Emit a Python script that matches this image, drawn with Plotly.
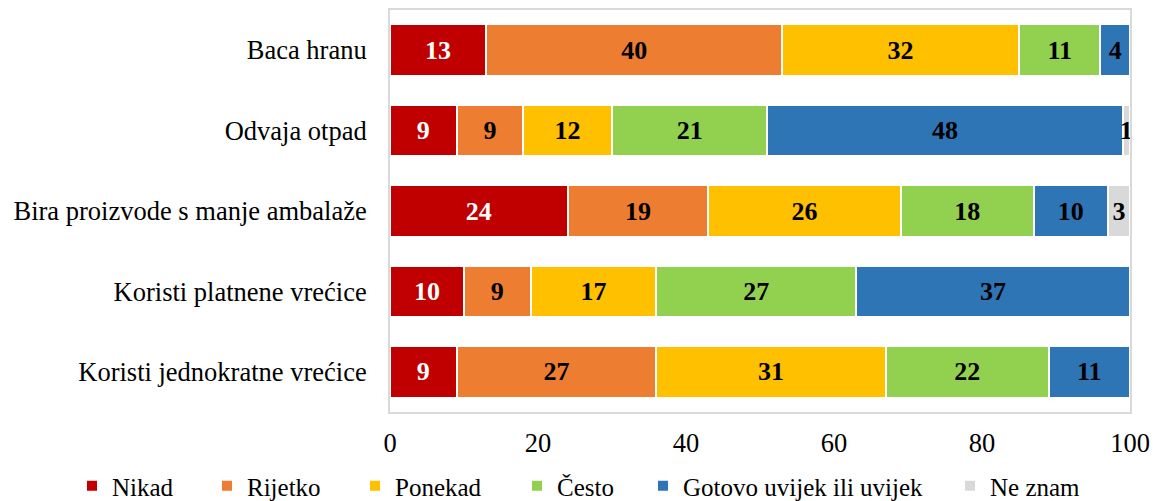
import plotly.graph_objects as go

categories = ["Baca hranu", "Odvaja otpad", "Bira proizvode s manje ambalaže",
              "Koristi platnene vrećice", "Koristi jednokratne vrećice"]
series_names = ["Nikad", "Rijetko", "Ponekad", "Često", "Gotovo uvijek ili uvijek", "Ne znam"]
nikad = [13, 9, 24, 10, 9]
rijetko = [40, 9, 19, 9, 27]
ponekad = [32, 12, 26, 17, 31]
cesto = [11, 21, 18, 27, 22]
gotovo = [4, 48, 10, 37, 11]
ne_znam = [None, 1, 3, None, None]
x_ticks = [0, 20, 40, 60, 80, 100]

colors = ["#C00000", "#ED7D31", "#FFC000", "#92D050", "#2E75B6", "#D9D9D9"]
text_colors = ["white", "black", "black", "black", "black", "black"]
FONT = "Liberation Serif, Times New Roman, serif"

# layout geometry (figure pixels)
L, T, PW, PH = 390, 10, 740, 402
FIG_W, FIG_H = 1153, 501
legend_marker_x = [96, 231, 379, 541, 667, 974]  # px of legend symbols
legend_y_px = 486

fig = go.Figure()
legend_ids = ["legend"] + [f"legend{i}" for i in range(2, 7)]
for name, vals, col, tcol, lid in zip(series_names,
                                      [nikad, rijetko, ponekad, cesto, gotovo, ne_znam],
                                      colors, text_colors, legend_ids):
    fig.add_trace(go.Bar(
        y=categories, x=vals, name=name, orientation="h", legend=lid,
        marker=dict(color=col, line=dict(color="white", width=2)),
        text=[("" if v is None else str(v)) for v in vals],
        textposition="inside", insidetextanchor="middle",
        textfont=dict(family=FONT, size=26, color=tcol, weight="bold"),
        cliponaxis=False, constraintext="none",
    ))

legend_layout = {}
for lid, mx in zip(legend_ids, legend_marker_x):
    fig_x = mx - 24
    legend_layout[lid] = dict(
        orientation="h", x=(fig_x - L) / PW, xanchor="left",
        y=(T + PH - legend_y_px) / PH, yanchor="middle",
        font=dict(family=FONT, size=25), bgcolor="rgba(0,0,0,0)", borderwidth=0)

fig.update_layout(
    barmode="stack", bargap=0.36,
    width=FIG_W, height=FIG_H,
    margin=dict(l=L, r=FIG_W - L - PW, t=T, b=FIG_H - T - PH, autoexpand=False),
    plot_bgcolor="white", paper_bgcolor="white",
    font=dict(family=FONT, size=26, color="black"),
    uniformtext=dict(minsize=26, mode="show"),
    showlegend=True,
    **legend_layout,
)
fig.update_xaxes(range=[0, 100], tickvals=x_ticks, ticktext=[str(t) for t in x_ticks],
                 showgrid=False, zeroline=False, showline=True, linecolor="#D9D9D9",
                 linewidth=2, mirror=True, ticks="", ticklabelstandoff=6,
                 tickfont=dict(family=FONT, size=26.5))
fig.update_yaxes(categoryorder="array", categoryarray=categories, autorange="reversed",
                 showgrid=False, showline=True, linecolor="#D9D9D9", linewidth=2, mirror=True,
                 ticks="", ticklabelstandoff=16, tickfont=dict(family=FONT, size=26.5))

fig.write_html("out.html", config={"displayModeBar": False},
               post_script="document.body.style.margin='0';document.body.style.overflow='hidden';")
